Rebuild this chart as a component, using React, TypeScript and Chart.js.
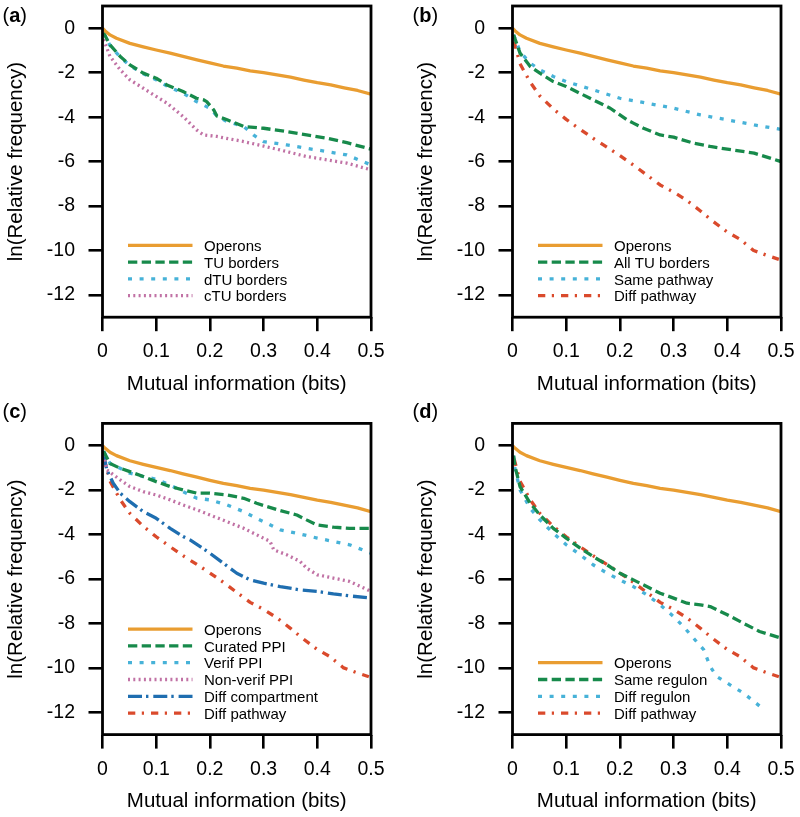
import React, { useEffect, useRef } from 'react';
import { Chart, registerables } from 'chart.js';

Chart.register(...registerables);

// ---------- ticks ----------
const X_TICKS = [0, 0.1, 0.2, 0.3, 0.4, 0.5];
const Y_TICKS = [0, -2, -4, -6, -8, -10, -12];
const X_TITLE = 'Mutual information (bits)';
const Y_TITLE = 'ln(Relative frequency)';

// ---------- data ----------
const OPERONS_MI = [0, 0.005, 0.014, 0.026, 0.051, 0.076, 0.1, 0.126, 0.15, 0.176, 0.2, 0.225, 0.25, 0.275, 0.3, 0.325, 0.35, 0.375, 0.4, 0.425, 0.45, 0.475, 0.5];
const OPERONS_LN = [0, -0.12, -0.3, -0.45, -0.68, -0.84, -0.98, -1.12, -1.27, -1.42, -1.56, -1.7, -1.8, -1.92, -2.0, -2.1, -2.2, -2.33, -2.45, -2.55, -2.68, -2.8, -2.97];

// panel (a)
const A_TU_MI = [0.002, 0.014, 0.033, 0.051, 0.076, 0.1, 0.12, 0.15, 0.175, 0.188, 0.194, 0.207, 0.213, 0.232, 0.263, 0.3, 0.343, 0.38, 0.418, 0.455, 0.5];
const A_TU_LN = [-0.2, -0.75, -1.27, -1.65, -2.02, -2.25, -2.55, -2.85, -3.15, -3.22, -3.3, -3.67, -3.95, -4.12, -4.42, -4.5, -4.65, -4.8, -4.95, -5.15, -5.44];
const A_DTU_MI = [0.002, 0.014, 0.033, 0.051, 0.076, 0.1, 0.12, 0.15, 0.175, 0.2, 0.213, 0.232, 0.263, 0.281, 0.3, 0.343, 0.38, 0.418, 0.455, 0.5];
const A_DTU_LN = [-0.2, -0.78, -1.3, -1.68, -2.05, -2.32, -2.6, -2.92, -3.3, -3.6, -3.95, -4.2, -4.42, -4.8, -5.1, -5.25, -5.4, -5.55, -5.7, -6.15];
const A_CTU_MI = [0.002, 0.014, 0.033, 0.051, 0.076, 0.1, 0.12, 0.15, 0.175, 0.188, 0.213, 0.263, 0.3, 0.343, 0.38, 0.418, 0.455, 0.5];
const A_CTU_LN = [-0.5, -1.27, -1.87, -2.32, -2.7, -3.07, -3.37, -3.97, -4.57, -4.8, -4.87, -5.1, -5.3, -5.55, -5.77, -5.92, -6.07, -6.37];

// panel (b)
const B_TU_MI = [0.002, 0.014, 0.033, 0.051, 0.076, 0.1, 0.15, 0.182, 0.2, 0.213, 0.225, 0.244, 0.275, 0.3, 0.337, 0.368, 0.4, 0.45, 0.5];
const B_TU_LN = [-0.3, -1.12, -1.72, -2.02, -2.4, -2.62, -3.22, -3.6, -3.9, -4.12, -4.27, -4.5, -4.8, -4.9, -5.17, -5.32, -5.44, -5.62, -6.0];
const B_SAME_MI = [0.002, 0.014, 0.033, 0.051, 0.076, 0.1, 0.15, 0.2, 0.25, 0.3, 0.35, 0.4, 0.45, 0.5];
const B_SAME_LN = [-0.3, -1.05, -1.57, -1.87, -2.17, -2.4, -2.77, -3.15, -3.37, -3.6, -3.9, -4.12, -4.35, -4.55];

// shared "Diff pathway" (b, c, d)
const DIFF_PATH_MI = [0.003, 0.014, 0.033, 0.051, 0.076, 0.1, 0.126, 0.15, 0.176, 0.2, 0.225, 0.25, 0.275, 0.3, 0.325, 0.35, 0.374, 0.4, 0.424, 0.449, 0.474, 0.496];
const DIFF_PATH_LN = [-0.6, -1.6, -2.43, -3.05, -3.63, -4.1, -4.55, -4.95, -5.35, -5.73, -6.15, -6.6, -7.05, -7.37, -7.75, -8.22, -8.7, -9.17, -9.5, -10.0, -10.22, -10.4];

// panel (c)
const C_CUR_MI = [0.002, 0.014, 0.033, 0.051, 0.076, 0.1, 0.126, 0.15, 0.176, 0.2, 0.232, 0.263, 0.287, 0.306, 0.331, 0.362, 0.38, 0.4, 0.43, 0.46, 0.5];
const C_CUR_LN = [-0.25, -0.8, -1.02, -1.17, -1.39, -1.62, -1.84, -1.99, -2.14, -2.14, -2.22, -2.37, -2.59, -2.74, -2.92, -3.12, -3.34, -3.57, -3.67, -3.72, -3.72];
const C_VER_MI = [0.002, 0.014, 0.033, 0.051, 0.076, 0.1, 0.126, 0.15, 0.176, 0.2, 0.232, 0.263, 0.287, 0.306, 0.331, 0.362, 0.4, 0.43, 0.46, 0.5];
const C_VER_LN = [-0.25, -0.8, -1.02, -1.24, -1.39, -1.51, -1.77, -2.07, -2.37, -2.44, -2.67, -2.97, -3.27, -3.49, -3.79, -3.94, -4.16, -4.31, -4.46, -4.84];
const C_NON_MI = [0.002, 0.008, 0.033, 0.051, 0.076, 0.1, 0.126, 0.15, 0.176, 0.2, 0.232, 0.263, 0.287, 0.312, 0.319, 0.343, 0.368, 0.38, 0.4, 0.43, 0.46, 0.5];
const C_NON_LN = [-0.4, -1.09, -1.54, -1.84, -2.07, -2.22, -2.44, -2.67, -2.89, -3.12, -3.42, -3.72, -4.01, -4.31, -4.69, -4.91, -5.21, -5.51, -5.81, -5.96, -6.11, -6.56];
const C_COMP_MI = [0.002, 0.008, 0.02, 0.033, 0.051, 0.076, 0.1, 0.126, 0.15, 0.163, 0.182, 0.2, 0.225, 0.25, 0.275, 0.3, 0.331, 0.368, 0.4, 0.43, 0.46, 0.5];
const C_COMP_LN = [-0.4, -1.09, -1.69, -2.14, -2.52, -2.97, -3.27, -3.72, -4.09, -4.24, -4.54, -4.84, -5.29, -5.74, -6.04, -6.19, -6.34, -6.49, -6.56, -6.67, -6.76, -6.86];

// panel (d)
const D_SAME_MI = [0.002, 0.0047, 0.014, 0.033, 0.051, 0.076, 0.1, 0.126, 0.15, 0.176, 0.2, 0.225, 0.25, 0.275, 0.3, 0.325, 0.35, 0.368, 0.4, 0.43, 0.46, 0.5];
const D_SAME_LN = [-0.45, -0.94, -1.84, -2.59, -3.12, -3.72, -4.16, -4.61, -4.99, -5.36, -5.74, -6.04, -6.34, -6.64, -6.86, -7.09, -7.16, -7.24, -7.61, -7.99, -8.36, -8.66];
const D_DIFF_MI = [0.002, 0.0047, 0.014, 0.033, 0.051, 0.076, 0.1, 0.126, 0.15, 0.176, 0.2, 0.225, 0.25, 0.275, 0.3, 0.318, 0.337, 0.356, 0.368, 0.38, 0.405, 0.43, 0.461];
const D_DIFF_LN = [-0.45, -1.05, -1.99, -2.82, -3.34, -3.94, -4.46, -4.91, -5.36, -5.74, -6.04, -6.34, -6.71, -7.16, -7.69, -8.13, -8.66, -9.18, -9.93, -10.38, -10.76, -11.13, -11.73];

// ---------- styles ----------
const FONT = "'Liberation Sans', Arial, Helvetica, sans-serif";
const STYLE = {
  orange: { color: '#E99D31', dash: [] as number[] },
  green: { color: '#178A4B', dash: [9.3, 4.4] },
  cyan: { color: '#47B2D8', dash: [4, 7.6] },
  pink: { color: '#C172A5', dash: [2, 3.3] },
  blue: { color: '#1F6EB0', dash: [14, 4, 2.4, 4.9] },
  red: { color: '#DA4A2C', dash: [7.3, 6.5, 2.2, 7] },
};
const LINE_W = 3.3;

type Series = { label: string; xs: number[]; ys: number[]; style: keyof typeof STYLE };

const PANELS: { id: string; left: number; top: number; width: number; height: number; padTop: number; labelY: number; series: Series[] }[] = [
  {
    id: 'a', left: 0, top: 0, width: 400, height: 400, padTop: 6, labelY: 16,
    series: [
      { label: 'Operons', xs: OPERONS_MI, ys: OPERONS_LN, style: 'orange' },
      { label: 'TU borders', xs: A_TU_MI, ys: A_TU_LN, style: 'green' },
      { label: 'dTU borders', xs: A_DTU_MI, ys: A_DTU_LN, style: 'cyan' },
      { label: 'cTU borders', xs: A_CTU_MI, ys: A_CTU_LN, style: 'pink' },
    ],
  },
  {
    id: 'b', left: 410, top: 0, width: 390, height: 400, padTop: 6, labelY: 16,
    series: [
      { label: 'Operons', xs: OPERONS_MI, ys: OPERONS_LN, style: 'orange' },
      { label: 'All TU borders', xs: B_TU_MI, ys: B_TU_LN, style: 'green' },
      { label: 'Same pathway', xs: B_SAME_MI, ys: B_SAME_LN, style: 'cyan' },
      { label: 'Diff pathway', xs: DIFF_PATH_MI, ys: DIFF_PATH_LN, style: 'red' },
    ],
  },
  {
    id: 'c', left: 0, top: 400, width: 400, height: 417, padTop: 23.4, labelY: 12,
    series: [
      { label: 'Operons', xs: OPERONS_MI, ys: OPERONS_LN, style: 'orange' },
      { label: 'Curated PPI', xs: C_CUR_MI, ys: C_CUR_LN, style: 'green' },
      { label: 'Verif PPI', xs: C_VER_MI, ys: C_VER_LN, style: 'cyan' },
      { label: 'Non-verif PPI', xs: C_NON_MI, ys: C_NON_LN, style: 'pink' },
      { label: 'Diff compartment', xs: C_COMP_MI, ys: C_COMP_LN, style: 'blue' },
      { label: 'Diff pathway', xs: DIFF_PATH_MI, ys: DIFF_PATH_LN, style: 'red' },
    ],
  },
  {
    id: 'd', left: 410, top: 400, width: 390, height: 417, padTop: 23.4, labelY: 12,
    series: [
      { label: 'Operons', xs: OPERONS_MI, ys: OPERONS_LN, style: 'orange' },
      { label: 'Same regulon', xs: D_SAME_MI, ys: D_SAME_LN, style: 'green' },
      { label: 'Diff regulon', xs: D_DIFF_MI, ys: D_DIFF_LN, style: 'cyan' },
      { label: 'Diff pathway', xs: DIFF_PATH_MI, ys: DIFF_PATH_LN, style: 'red' },
    ],
  },
];

const PLOT_LEFT = 102.5;
const PLOT_RIGHT = 371;
const PLOT_H = 311.2;
const X_AXIS_H = 82.3;

const framePlugin = {
  id: 'frame',
  afterDatasetsDraw(chart: any) {
    const { ctx, chartArea: a } = chart;
    ctx.save();
    ctx.strokeStyle = '#000';
    ctx.lineWidth = 2.8;
    ctx.setLineDash([]);
    ctx.strokeRect(a.left, a.top, a.right - a.left, a.bottom - a.top);
    ctx.restore();
  },
};

const insideLegendPlugin = {
  id: 'insideLegend',
  afterDraw(chart: any) {
    const { ctx, chartArea: a } = chart;
    const ds = chart.data.datasets;
    const n = ds.length;
    ctx.save();
    ds.forEach((d: any, i: number) => {
      const y = a.bottom - 21.5 - (n - 1 - i) * 16.8;
      ctx.beginPath();
      ctx.strokeStyle = d.borderColor;
      ctx.lineWidth = LINE_W;
      ctx.lineCap = 'butt';
      ctx.setLineDash(d.borderDash || []);
      ctx.moveTo(a.left + 25.5, y);
      ctx.lineTo(a.left + 90, y);
      ctx.stroke();
      ctx.setLineDash([]);
      ctx.fillStyle = '#000';
      ctx.font = `15px ${FONT}`;
      ctx.textAlign = 'left';
      ctx.textBaseline = 'middle';
      ctx.fillText(d.label, a.left + 101.5, y + 1.5);
    });
    ctx.restore();
  },
};

const panelLabelPlugin = {
  id: 'panelLabel',
  afterDraw(chart: any, _args: any, opts: any) {
    const { ctx } = chart;
    ctx.save();
    ctx.fillStyle = '#000';
    ctx.textBaseline = 'middle';
    ctx.textAlign = 'left';
    let x = 2.5;
    const y = opts.y;
    ctx.font = `20px ${FONT}`;
    ctx.fillText('(', x, y);
    x += ctx.measureText('(').width;
    ctx.font = `bold 20px ${FONT}`;
    ctx.fillText(opts.text, x, y);
    x += ctx.measureText(opts.text).width;
    ctx.font = `20px ${FONT}`;
    ctx.fillText(')', x, y);
    ctx.restore();
  },
};

function Panel({ p }: { p: (typeof PANELS)[number] }) {
  const ref = useRef<HTMLCanvasElement | null>(null);
  useEffect(() => {
    if (!ref.current) return;
    const padBottom = p.height - p.padTop - PLOT_H - X_AXIS_H;
    const gridOpts = {
      display: true,
      drawOnChartArea: false,
      drawTicks: true,
      tickLength: 14,
      color: '#000',
      lineWidth: 2.6,
    };
    const chart = new Chart(ref.current, {
      type: 'line',
      data: {
        datasets: p.series.map((s) => ({
          label: s.label,
          data: s.xs.map((x, i) => ({ x, y: s.ys[i] })),
          borderColor: STYLE[s.style].color,
          backgroundColor: STYLE[s.style].color,
          borderDash: STYLE[s.style].dash,
          borderWidth: LINE_W,
          borderCapStyle: 'butt',
          borderJoinStyle: 'round',
          pointRadius: 0,
          tension: 0,
          fill: false,
        })),
      },
      options: {
        animation: false,
        responsive: false,
        devicePixelRatio: 1,
        events: [],
        layout: { padding: { left: 0, right: p.width - PLOT_RIGHT, top: p.padTop, bottom: padBottom } },
        plugins: {
          legend: { display: false },
          tooltip: { enabled: false },
          panelLabel: { text: p.id, y: p.labelY },
        } as any,
        scales: {
          x: {
            type: 'linear',
            min: 0,
            max: 0.5,
            afterBuildTicks: (s: any) => {
              s.ticks = X_TICKS.map((v) => ({ value: v }));
            },
            afterFit: (s: any) => {
              s.height = X_AXIS_H;
              s.paddingLeft = 0;
              s.paddingRight = 0;
            },
            ticks: {
              font: { family: FONT, size: 19.5 },
              color: '#000',
              padding: 9,
              maxRotation: 0,
              autoSkip: false,
              callback: (v: any) => String(Math.round(Number(v) * 10) / 10),
            },
            grid: gridOpts,
            border: { display: false },
            title: {
              display: true,
              text: X_TITLE,
              color: '#000',
              font: { family: FONT, size: 20.5 },
              padding: { top: 0, bottom: 3 },
            },
          },
          y: {
            type: 'linear',
            min: -13,
            max: 1,
            afterBuildTicks: (s: any) => {
              s.ticks = Y_TICKS.map((v) => ({ value: v }));
            },
            afterFit: (s: any) => {
              s.width = PLOT_LEFT;
              s.paddingTop = 0;
              s.paddingBottom = 0;
            },
            ticks: {
              font: { family: FONT, size: 19.5 },
              color: '#000',
              padding: 13.5,
              autoSkip: false,
              callback: (v: any) => String(v),
            },
            grid: gridOpts,
            border: { display: false },
            title: {
              display: true,
              text: Y_TITLE,
              color: '#000',
              font: { family: FONT, size: 20.5 },
              padding: { top: 4, bottom: 0 },
            },
          },
        },
      } as any,
      plugins: [framePlugin, insideLegendPlugin, panelLabelPlugin],
    });
    return () => chart.destroy();
  }, [p]);
  return (
    <canvas
      ref={ref}
      width={p.width}
      height={p.height}
      style={{ position: 'absolute', left: p.left, top: p.top, width: p.width, height: p.height }}
    />
  );
}

export default function App() {
  return (
    <div style={{ position: 'absolute', left: 0, top: 0, width: 800, height: 817, background: '#fff', overflow: 'hidden' }}>
      {PANELS.map((p) => (
        <Panel key={p.id} p={p} />
      ))}
    </div>
  );
}
